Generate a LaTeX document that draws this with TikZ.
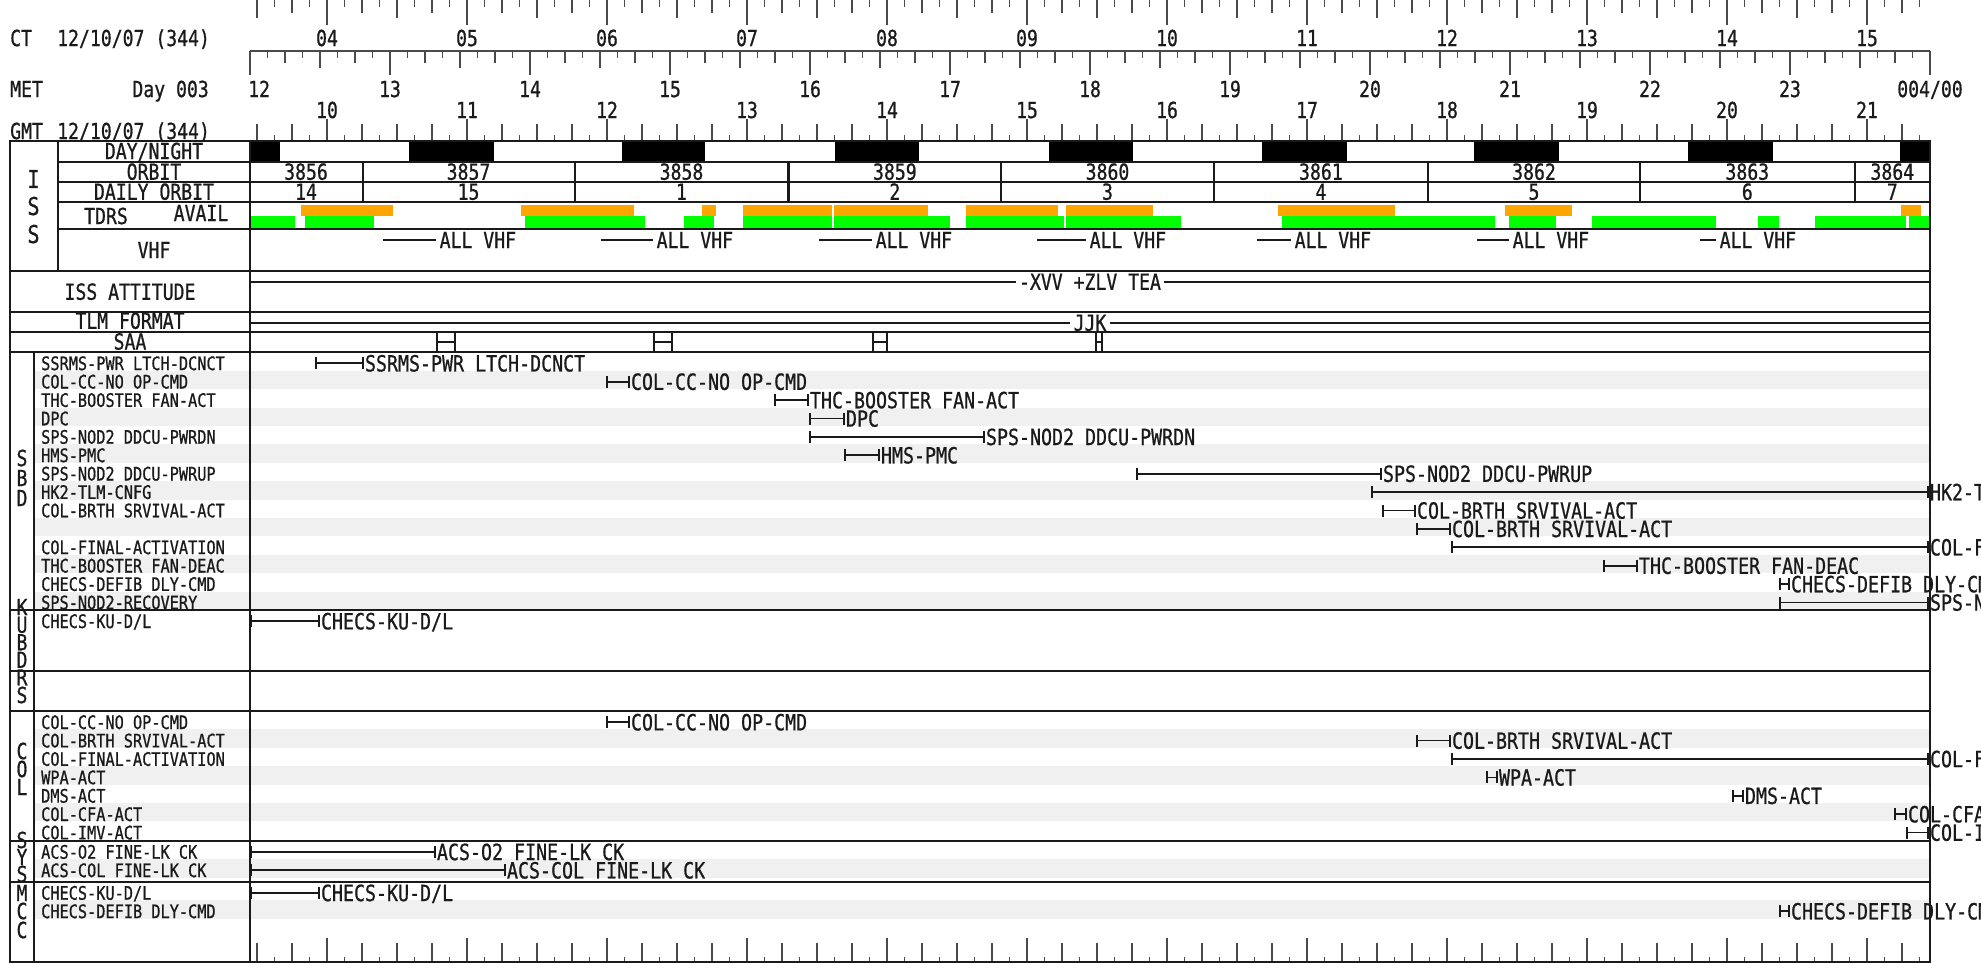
\documentclass[tikz,border=0pt]{standalone}
\usepackage{fontspec}
\setmainfont{DejaVu Sans Mono}[FakeStretch=0.82,FakeBold=0.8]
\usetikzlibrary{arrows.meta}
\definecolor{linec}{HTML}{1A1A1A}
\definecolor{tickc}{HTML}{4A4A4A}
\definecolor{stripe}{HTML}{F0F0F0}
\definecolor{tdrso}{HTML}{FFA500}
\definecolor{tdrsg}{HTML}{00FF00}
\newcommand\chHdr{\fontsize{22.1pt}{23pt}\selectfont}
\newcommand\chLbl{\fontsize{18.6pt}{19pt}\selectfont}
\newcommand\chBar{\fontsize{22.3pt}{23pt}\selectfont}
\newcommand\chBig{\fontsize{24.5pt}{26pt}\selectfont}
\newcommand\chbar[5]{% name, xstart, xend, y, text
  \coordinate (#1s) at (#2,#4);
  \node[bl] (#1) at (#3,#4) {#5};
  \draw[evbar] (#1s) -- (#1.west);}
\begin{document}
\begin{tikzpicture}[x=1pt,y=-1pt,
  chframe/.style={line width=2pt,draw=linec},
  thinl/.style={line width=1.8pt,draw=linec},
  tk/.style={line width=1.3pt,draw=tickc},
  hd/.style={font=\chHdr,text=linec,inner sep=0pt,text height=16.1pt,text depth=0pt},
  big/.style={font=\chBig,text=linec,inner sep=0pt,text height=17.9pt,text depth=0pt},
  lb/.style={font=\chLbl,text=linec,inner sep=0pt,text height=13.6pt,text depth=0pt,anchor=west},
  bl/.style={font=\chBar,text=linec,inner xsep=0.8pt,inner ysep=0pt,text height=16.3pt,text depth=0pt,anchor=west},
  evbar/.style={line width=1.7pt,draw=linec,arrows={Bar[width=12pt]-Bar[width=12pt]}},
  vt/.style={font=\chHdr,text=linec,inner xsep=3.5pt,inner ysep=0pt,text height=16.1pt,text depth=0pt,anchor=west},
  gap/.style={font=\chHdr,text=linec,fill=white,inner xsep=3pt,inner ysep=0pt,text height=16.1pt,text depth=0pt}
]
\useasboundingbox (0,0) rectangle (1981,963);

% ---------- stripes ----------
\foreach \k in {1,3,...,13} \fill[stripe] (34,{352.3+18.4*\k}) rectangle (1930,{370.7+18.4*\k});
\foreach \k in {1,3,5} \fill[stripe] (34,{711+18.4*\k}) rectangle (1930,{729.4+18.4*\k});
\fill[stripe] (34,859.1) rectangle (1930,877.5);
\fill[stripe] (34,900.1) rectangle (1930,918.5);

% ---------- day / night ----------
\foreach \a/\b in {250/280,409/494,622/705,835/919,1049/1133,1262/1347,1474/1559,1688/1773,1900/1930}
  \fill[black] (\a,141) rectangle (\b,161.7);

% ---------- TDRS ----------
\foreach \a/\b in {301/393,521/634,702/716,743/832,834/928,966/1058,1066/1153,1278/1395,1505/1572,1901/1921}
  \fill[tdrso] (\a,205) rectangle (\b,216.3);
\foreach \a/\b in {250/295,305/374,525/645,684/714,743/832,834/950,966/1064,1066/1181,1282/1495,1509/1556,1592/1716,1758/1779,1815/1906,1909/1930}
  \fill[tdrsg] (\a,216.3) rectangle (\b,227.7);

% ---------- axes ----------
% CT (top, downward)
\foreach \j in {-4,...,91}{
  \pgfmathsetmacro\xx{327+17.5*\j}
  \pgfmathsetmacro\m{mod(\j+80,8)}
  \pgfmathsetmacro\L{ifthenelse(\m==0,25,ifthenelse(\m==4,18,ifthenelse(mod(\m,2)==0,13,7)))}
  \draw[tk] (\xx,0) -- (\xx,\L);
}
% MET
\draw[tk,line width=1.6pt] (250,51) -- (1930,51);
\foreach \j in {0,...,96}{
  \pgfmathsetmacro\xx{250+17.5*\j}
  \pgfmathsetmacro\m{mod(\j,8)}
  \pgfmathsetmacro\L{ifthenelse(\m==0,24,ifthenelse(\m==4,17,ifthenelse(mod(\m,2)==0,12,7)))}
  \draw[tk] (\xx,51) -- (\xx,{51+\L});
}
% GMT (upward from box)
\foreach \j in {-4,...,91}{
  \pgfmathsetmacro\xx{327+17.5*\j}
  \pgfmathsetmacro\m{mod(\j+80,8)}
  \pgfmathsetmacro\L{ifthenelse(\m==0,22,ifthenelse(mod(\m,2)==0,17,6))}
  \draw[tk] (\xx,141) -- (\xx,{141-\L});
}
% bottom axis
\foreach \j in {-4,...,91}{
  \pgfmathsetmacro\xx{327+17.5*\j}
  \pgfmathsetmacro\m{mod(\j+80,8)}
  \pgfmathsetmacro\L{ifthenelse(\m==0,24,ifthenelse(mod(\m,2)==0,19,5))}
  \draw[tk] (\xx,962) -- (\xx,{962-\L});
}

% ---------- axis labels ----------
\node[hd,anchor=west] (ctA) at (10,38) {CT};
\node[hd,anchor=west] (ctB) at (57,38) {12/10/07 (344)};
\node[hd,anchor=west] (metA) at (10,89) {MET};
\node[hd,anchor=east] (metB) at (209,89) {Day 003};
\node[hd,anchor=west] (gmtA) at (10,131) {GMT};
\node[hd,anchor=west] (gmtB) at (57,131) {12/10/07 (344)};
\foreach \k/\t in {0/04,1/05,2/06,3/07,4/08,5/09,6/10,7/11,8/12,9/13,10/14,11/15}
  \node[hd] (ct\k) at ({327+140*\k},38) {\t};
\foreach \k/\t in {0/10,1/11,2/12,3/13,4/14,5/15,6/16,7/17,8/18,9/19,10/20,11/21}
  \node[hd] (gmt\k) at ({327+140*\k},110) {\t};
\node[hd,anchor=west] (met0) at (248,89) {12};
\foreach \k/\t in {1/13,2/14,3/15,4/16,5/17,6/18,7/19,8/20,9/21,10/22,11/23}
  \node[hd] (met\k) at ({250+140*\k},89) {\t};
\node[hd] (met12) at (1930,89) {004/00};

% ---------- frame ----------
\foreach \y in {141,270.7,311.7,331.7,352.3,610,671,711,840.7,881.7,962}
  \draw[chframe] (10,\y) -- (1930,\y);
\foreach \y in {161.7,181.7,201.7,229.3}
  \draw[chframe] (58,\y) -- (1930,\y);
\draw[chframe] (10,140) -- (10,963);
\draw[chframe] (58,141) -- (58,270.7);
\draw[chframe] (250,141) -- (250,962);
\draw[chframe] (1930,140) -- (1930,963);
\draw[chframe] (34,352.3) -- (34,962);
\foreach \x in {362.5,574.6,1001.3,1213.8,1428,1640,1854.6}
  \draw[chframe] (\x,161.7) -- (\x,201.7);
\draw[chframe,line width=3.2pt] (788.4,161.7) -- (788.4,201.7);

% ---------- ISS block ----------
\node[big] (issI) at (33.5,179) {I};
\node[big] (issS1) at (33.5,206) {S};
\node[big] (issS2) at (33.5,234) {S};
\node[hd] (dnL) at (154,151) {DAY/NIGHT};
\node[hd] (orbL) at (154,171.7) {ORBIT};
\node[hd] (dorbL) at (154,191.7) {DAILY ORBIT};
\node[hd] (tdrsL) at (106,216) {TDRS};
\node[hd] (availL) at (201,213) {AVAIL};
\node[hd] (vhfL) at (154,250) {VHF};
\node[hd] (attL) at (130,291.7) {ISS ATTITUDE};
\node[hd] (tlmL) at (130,320.7) {TLM FORMAT};
\node[hd] (saaL) at (130,341.5) {SAA};

\foreach \x/\o/\d in {306/3856/14,468.5/3857/15,681.5/3858/1,894.9/3859/2,1107.5/3860/3,1320.9/3861/4,1534/3862/5,1747.3/3863/6,1892.3/3864/7}{
  \node[hd] (orb\o) at (\x,171.7) {\o};
  \node[hd] (dorb\o) at (\x,191.7) {\d};
}

% VHF
\foreach \n/\a/\b in {1/383/436,2/601/653,3/819/872,4/1037/1086,5/1257/1291,6/1477/1509,7/1700/1716}{
  \coordinate (vhf\n s) at (\a,240);
  \node[vt] (vhf\n) at (\b,240) {ALL VHF};
  \draw[thinl,line width=1.4pt] (vhf\n s) -- (vhf\n.west);
}

% attitude and TLM
\coordinate (attA) at (250,281.7);
\coordinate (attB) at (1930,281.7);
\node[gap] (att) at (1090,281.7) {-XVV +ZLV TEA};
\draw[thinl] (attA) -- (att.west) (att.east) -- (attB);
\coordinate (tlmA) at (250,322.7);
\coordinate (tlmB) at (1930,322.7);
\node[gap] (tlm) at (1090,322.7) {JJK};
\draw[thinl] (tlmA) -- (tlm.west) (tlm.east) -- (tlmB);

% SAA
\foreach \a/\b in {437/455,654/672,873/887,1096/1102}
  \draw[thinl] (\a,333) -- (\a,351) (\b,333) -- (\b,351) (\a,341.7) -- (\b,341.7);

% ---------- section letters ----------
\node[hd] (sbd1) at (22,458) {S};
\node[hd] (sbd2) at (22,478) {B};
\node[hd] (sbd3) at (22,498) {D};
\foreach \k/\t in {0/K,1/U,2/B,3/D,4/R,5/S}
  \node[hd] (ku\k) at (22,{607+17.6*\k}) {\t};
\node[hd] (col1) at (22,751) {C};
\node[hd] (col2) at (22,769) {O};
\node[hd] (col3) at (22,787) {L};
\node[hd] (sys1) at (22,840) {S};
\node[hd] (sys2) at (22,857) {Y};
\node[hd] (sys3) at (22,874) {S};
\node[hd] (mcc1) at (22,893) {M};
\node[hd] (mcc2) at (22,911) {C};
\node[hd] (mcc3) at (22,930) {C};

% ---------- SBD ----------
\node[lb] (sl0) at (41,363.3) {SSRMS-PWR LTCH-DCNCT};
\node[lb] (sl1) at (41,381.7) {COL-CC-NO OP-CMD};
\node[lb] (sl2) at (41,400.1) {THC-BOOSTER FAN-ACT};
\node[lb] (sl3) at (41,418.5) {DPC};
\node[lb] (sl4) at (41,436.9) {SPS-NOD2 DDCU-PWRDN};
\node[lb] (sl5) at (41,455.3) {HMS-PMC};
\node[lb] (sl6) at (41,473.7) {SPS-NOD2 DDCU-PWRUP};
\node[lb] (sl7) at (41,492.1) {HK2-TLM-CNFG};
\node[lb] (sl8) at (41,510.5) {COL-BRTH SRVIVAL-ACT};
\node[lb] (sl10) at (41,547.3) {COL-FINAL-ACTIVATION};
\node[lb] (sl11) at (41,565.7) {THC-BOOSTER FAN-DEAC};
\node[lb] (sl12) at (41,584.1) {CHECS-DEFIB DLY-CMD};
\node[lb] (sl13) at (41,602.5) {SPS-NOD2-RECOVERY};

\chbar{sb0}{315}{364}{363.3}{SSRMS-PWR LTCH-DCNCT}
\chbar{sb1}{606}{630}{381.7}{COL-CC-NO OP-CMD}
\chbar{sb2}{774}{809}{400.1}{THC-BOOSTER FAN-ACT}
\chbar{sb3}{809}{845}{418.5}{DPC}
\chbar{sb4}{809}{985}{436.9}{SPS-NOD2 DDCU-PWRDN}
\chbar{sb5}{844}{880}{455.3}{HMS-PMC}
\chbar{sb6}{1136}{1382}{473.7}{SPS-NOD2 DDCU-PWRUP}
\chbar{sb7}{1371}{1929}{492.1}{HK2-TLM-CNFG}
\chbar{sb8}{1382}{1416}{510.5}{COL-BRTH SRVIVAL-ACT}
\chbar{sb9}{1416}{1451}{528.9}{COL-BRTH SRVIVAL-ACT}
\chbar{sb10}{1451}{1929}{547.3}{COL-FINAL-ACTIVATION}
\chbar{sb11}{1603}{1638}{565.7}{THC-BOOSTER FAN-DEAC}
\chbar{sb12}{1779}{1790}{584.1}{CHECS-DEFIB DLY-CMD}
\chbar{sb13}{1779}{1929}{602.5}{SPS-NOD2-RECOVERY}

% ---------- KU BDRS ----------
\node[lb] (kl0) at (41,621.2) {CHECS-KU-D/L};
\chbar{kb0}{250}{320}{621.2}{CHECS-KU-D/L}

% ---------- COL ----------
\node[lb] (cl0) at (41,722.2) {COL-CC-NO OP-CMD};
\node[lb] (cl1) at (41,740.6) {COL-BRTH SRVIVAL-ACT};
\node[lb] (cl2) at (41,759.0) {COL-FINAL-ACTIVATION};
\node[lb] (cl3) at (41,777.4) {WPA-ACT};
\node[lb] (cl4) at (41,795.8) {DMS-ACT};
\node[lb] (cl5) at (41,814.2) {COL-CFA-ACT};
\node[lb] (cl6) at (41,832.6) {COL-IMV-ACT};
\chbar{cb0}{606}{630}{722.2}{COL-CC-NO OP-CMD}
\chbar{cb1}{1416}{1451}{740.6}{COL-BRTH SRVIVAL-ACT}
\chbar{cb2}{1451}{1929}{759.0}{COL-FINAL-ACTIVATION}
\chbar{cb3}{1486}{1498}{777.4}{WPA-ACT}
\chbar{cb4}{1732}{1744}{795.8}{DMS-ACT}
\chbar{cb5}{1894}{1907}{814.2}{COL-CFA-ACT}
\chbar{cb6}{1906}{1929}{832.6}{COL-IMV-ACT}

% ---------- SYS ----------
\node[lb] (yl0) at (41,851.9) {ACS-O2 FINE-LK CK};
\node[lb] (yl1) at (41,870.3) {ACS-COL FINE-LK CK};
\chbar{yb0}{250}{436}{851.9}{ACS-O2 FINE-LK CK}
\chbar{yb1}{250}{506}{870.3}{ACS-COL FINE-LK CK}

% ---------- MCC ----------
\node[lb] (ml0) at (41,892.9) {CHECS-KU-D/L};
\node[lb] (ml1) at (41,911.3) {CHECS-DEFIB DLY-CMD};
\chbar{mb0}{250}{320}{892.9}{CHECS-KU-D/L}
\chbar{mb1}{1779}{1790}{911.3}{CHECS-DEFIB DLY-CMD}
\end{tikzpicture}
\end{document}
